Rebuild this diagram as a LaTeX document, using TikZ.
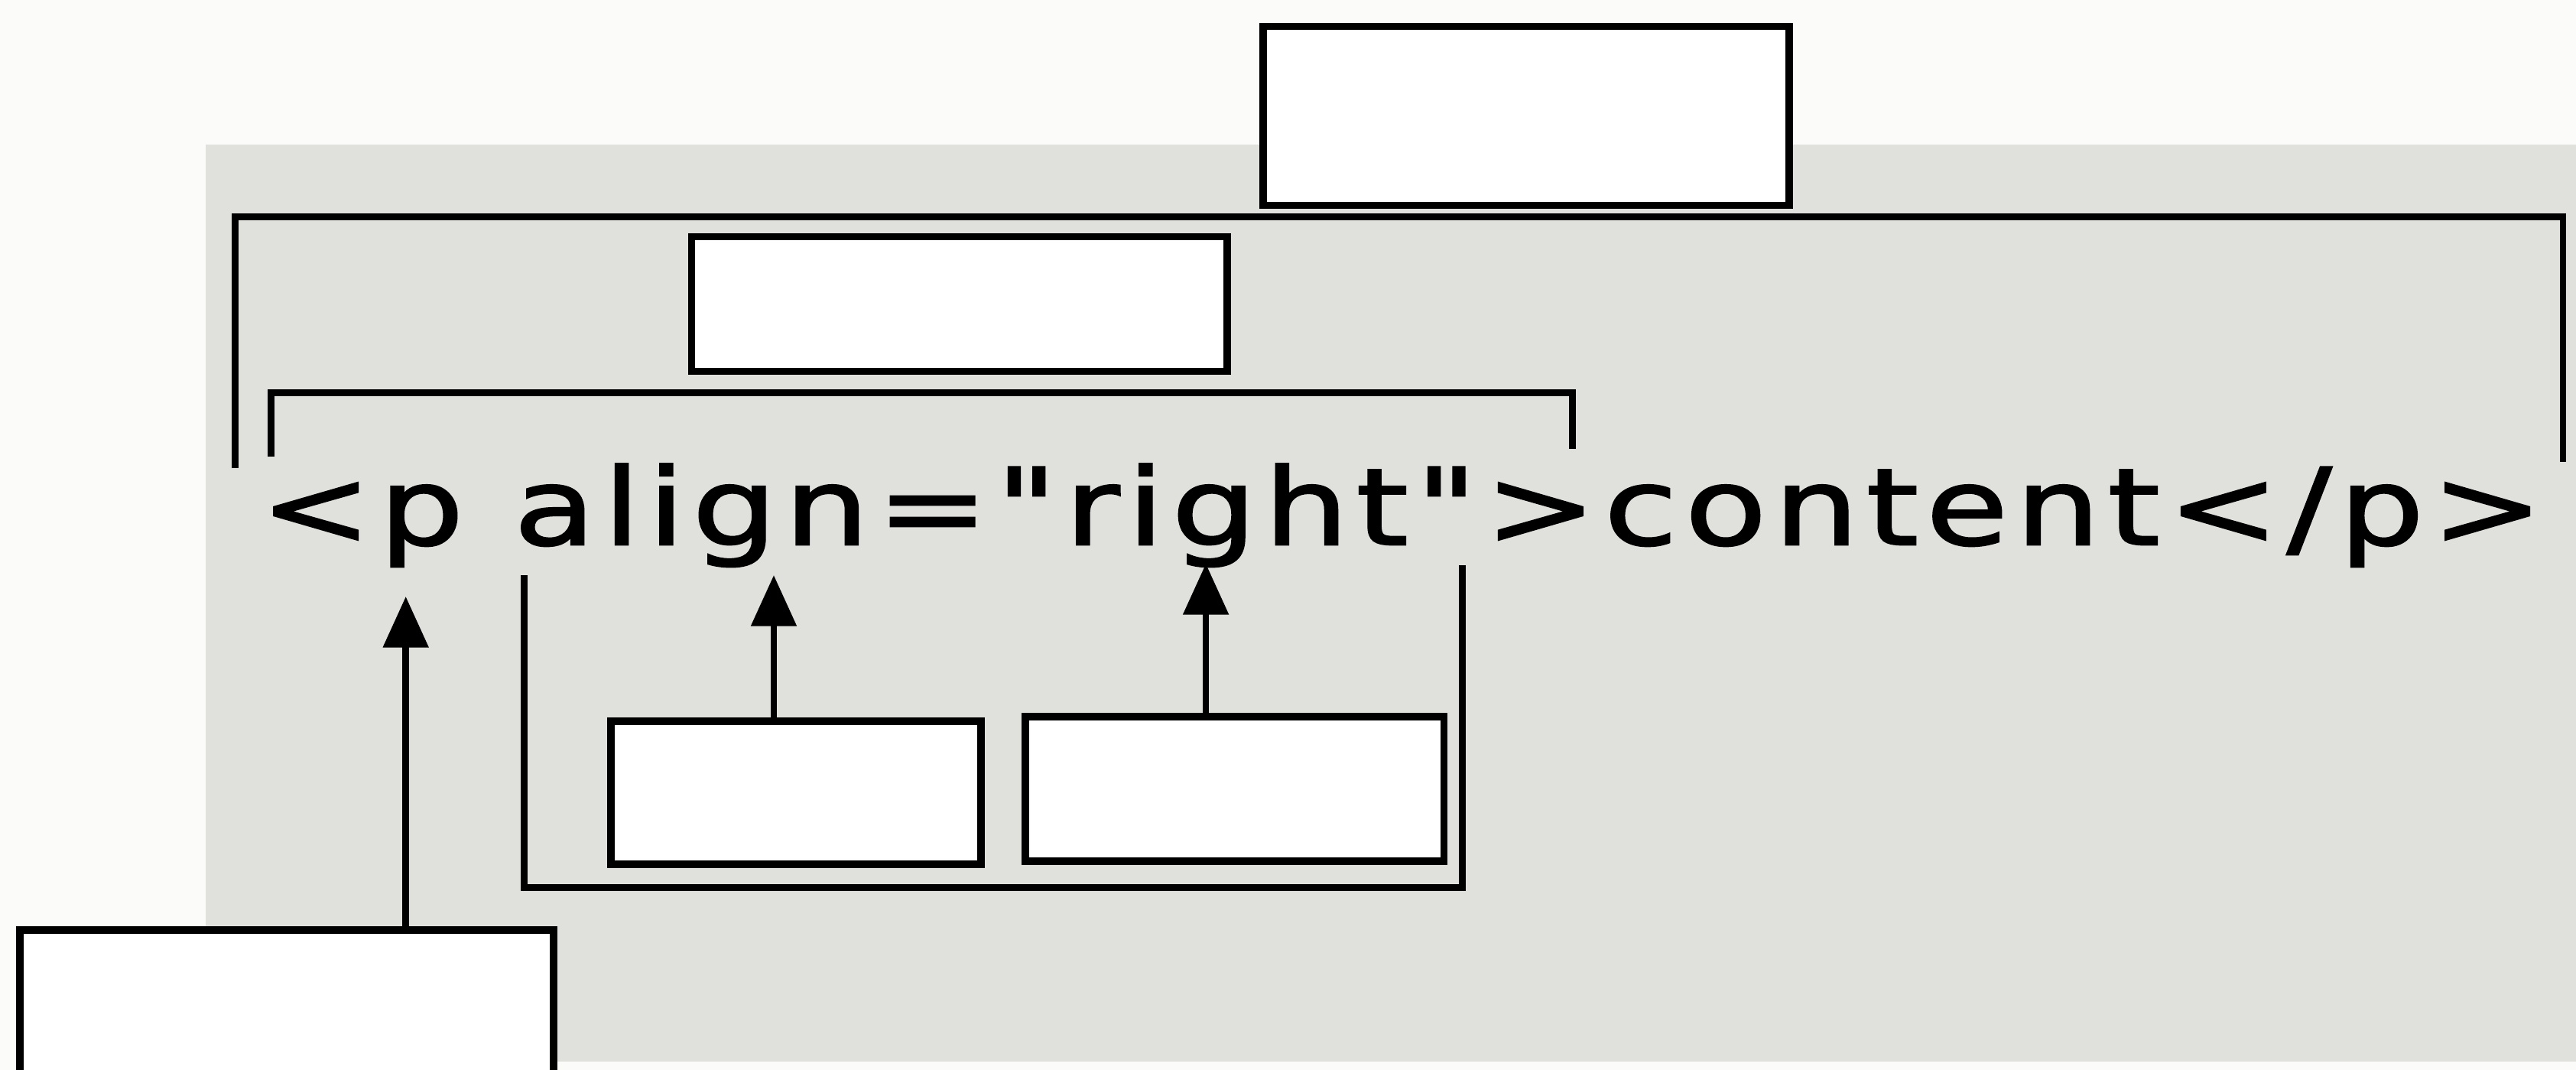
\documentclass[tikz,border=0pt]{standalone}
\usepackage{fontspec}
\setmainfont{DejaVu Sans}
\newfontfamily\codefont[LetterSpace=5.6, FakeBold=1.6]{DejaVu Sans}
\usetikzlibrary{arrows.meta}
\definecolor{paper}{RGB}{224,224,220}
\definecolor{offwhite}{RGB}{251,252,250}
\tikzset{
  blank/.style={draw=black, fill=white, line width=4.5pt, rectangle, inner sep=0pt},
  bracket/.style={draw=black, line width=4pt, line join=miter},
  pointer/.style={draw=black, line width=4pt, -{Triangle[length=31pt,width=27pt]}},
}
\begin{document}
\begin{tikzpicture}[x=1pt, y=-1pt]
\useasboundingbox (0,0) rectangle (1568,651);
% background
\fill[offwhite] (0,0) rectangle (1568,651);
\fill[paper] (125,88) rectangle (1568,646);

% code line
\node[anchor=base west, inner sep=0pt] (code) at (158,331.5)
  {\scalebox{1.25}[1]{\fontsize{65}{78}\codefont <p align=\symbol{34}right\symbol{34}>content</p>}};

% blank boxes
\node[blank, minimum width=320pt, minimum height=109pt] (top) at (929,70.5) {};
\node[blank, minimum width=326pt, minimum height=82pt] (mid) at (584,185) {};
\node[blank, minimum width=225pt, minimum height=87pt] (attr) at (484.5,482.5) {};
\node[blank, minimum width=255pt, minimum height=88pt] (val) at (751.5,480) {};
\node[blank, minimum width=325pt, minimum height=160pt] (tag) at (174.5,646) {};

% bracket corner coordinates
\coordinate (oL) at (143,285);
\coordinate (oR) at (1560,281);
\coordinate (oT) at (0,132);
\coordinate (iL) at (165,278);
\coordinate (iR) at (957,273);
\coordinate (iT) at (0,239);
\coordinate (bL) at (319,350);
\coordinate (bR) at (890,344);
\coordinate (bB) at (0,540);

% outer bracket: whole element
\draw[bracket] (oL) -- (oL |- oT) -- (oR |- oT) -- (oR);
% inner bracket: start tag
\draw[bracket] (iL) -- (iL |- iT) -- (iR |- iT) -- (iR);
% lower bracket: attribute
\draw[bracket] (bL) -- (bL |- bB) -- (bR |- bB) -- (bR);

% arrow tips
\coordinate (tipP) at (247,363);
\coordinate (tipA) at (471,350);
\coordinate (tipV) at (734,343);

\draw[pointer] (tag.north -| tipP) -- (tipP);
\draw[pointer] (attr.north -| tipA) -- (tipA);
\draw[pointer] (val.north -| tipV) -- (tipV);
\end{tikzpicture}
\end{document}
